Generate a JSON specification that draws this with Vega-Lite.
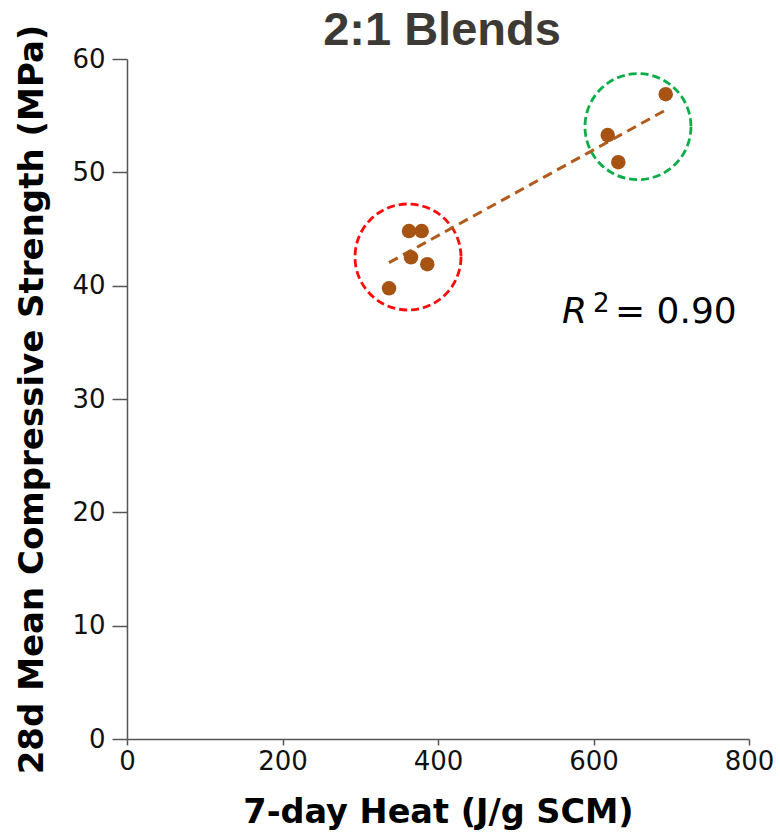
{
  "$schema": "https://vega.github.io/schema/vega-lite/v6.json",
  "autosize": "none",
  "width": 622,
  "height": 680,
  "padding": {"left": 127, "top": 59, "right": 31, "bottom": 94},
  "background": "white",
  "config": {"view": {"stroke": null}},
  "title": {
    "text": "2:1 Blends",
    "font": "Liberation Sans",
    "fontSize": 47,
    "fontWeight": "bold",
    "color": "#3d3935",
    "anchor": "middle",
    "baseline": "alphabetic",
    "offset": -68,
    "dx": 4
  },
  "datasets": {
    "points": [
      {"heat": 362.7, "strength": 44.82},
      {"heat": 379.0, "strength": 44.82},
      {"heat": 365.3, "strength": 42.50},
      {"heat": 386.2, "strength": 41.89},
      {"heat": 337.0, "strength": 39.77},
      {"heat": 692.9, "strength": 56.89},
      {"heat": 618.3, "strength": 53.29},
      {"heat": 631.9, "strength": 50.89}
    ],
    "fit": [
      {"heat": 337.0, "strength": 42.03},
      {"heat": 692.9, "strength": 55.50}
    ],
    "groups": [
      {"heat": 361.4, "strength": 42.53, "group": "low"},
      {"heat": 657.2, "strength": 54.03, "group": "high"}
    ],
    "note": [
      {"heat": 559.5, "strength": 36.7}
    ]
  },
  "encoding": {
    "x": {
      "field": "heat",
      "type": "quantitative",
      "scale": {"domain": [0, 800], "nice": false},
      "axis": {
        "title": "7-day Heat (J/g SCM)",
        "values": [0, 200, 400, 600, 800],
        "grid": false,
        "domainColor": "#555555",
        "domainWidth": 1.5,
        "tickColor": "#555555",
        "tickWidth": 1.5,
        "tickSize": 6,
        "labelFont": "DejaVu Sans",
        "labelFontSize": 26,
        "labelColor": "#111111",
        "labelPadding": 3,
        "labelFlush": false,
        "titleFont": "DejaVu Sans",
        "titleFontSize": 33.5,
        "titleFontWeight": "bold",
        "titleColor": "#000000",
        "titlePadding": 22
      }
    },
    "y": {
      "field": "strength",
      "type": "quantitative",
      "scale": {"domain": [0, 60], "nice": false},
      "axis": {
        "title": "28d Mean Compressive Strength (MPa)",
        "values": [0, 10, 20, 30, 40, 50, 60],
        "grid": false,
        "domainColor": "#555555",
        "domainWidth": 1.5,
        "tickColor": "#555555",
        "tickWidth": 1.5,
        "tickSize": 15,
        "labelFont": "DejaVu Sans",
        "labelFontSize": 26,
        "labelColor": "#111111",
        "labelPadding": 7,
        "labelFlush": false,
        "titleFont": "DejaVu Sans",
        "titleFontSize": 34,
        "titleFontWeight": "bold",
        "titleColor": "#000000",
        "titlePadding": 22
      }
    }
  },
  "layer": [
    {
      "data": {"name": "groups"},
      "mark": {"type": "point", "shape": "circle", "filled": false, "opacity": 1, "size": 11236, "strokeWidth": 2.8, "strokeDash": [8, 4]},
      "encoding": {
        "stroke": {
          "field": "group",
          "type": "nominal",
          "scale": {"domain": ["low", "high"], "range": ["#ff0a0a", "#0aad48"]},
          "legend": null
        }
      }
    },
    {
      "data": {"name": "fit"},
      "mark": {"type": "line", "color": "#b05a1c", "strokeWidth": 3, "strokeDash": [10, 6]},
      "encoding": {}
    },
    {
      "data": {"name": "points"},
      "mark": {"type": "circle", "size": 210, "color": "#a65313", "opacity": 1},
      "encoding": {}
    },
    {
      "data": {"name": "note"},
      "mark": {"type": "text", "text": "R", "font": "DejaVu Sans", "fontSize": 36, "fontStyle": "italic", "align": "left", "baseline": "alphabetic", "color": "#000000"},
      "encoding": {}
    },
    {
      "data": {"name": "note"},
      "mark": {"type": "text", "text": "2", "font": "DejaVu Sans", "fontSize": 26, "align": "left", "baseline": "alphabetic", "dx": 31, "dy": -11, "color": "#000000"},
      "encoding": {}
    },
    {
      "data": {"name": "note"},
      "mark": {"type": "text", "text": "= 0.90", "font": "DejaVu Sans", "fontSize": 36, "align": "left", "baseline": "alphabetic", "dx": 53, "color": "#000000"},
      "encoding": {}
    }
  ]
}
